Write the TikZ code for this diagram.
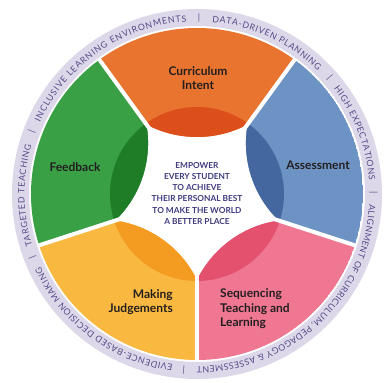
\documentclass[tikz,border=0pt]{standalone}
\usepackage{fontspec}
\setmainfont{Lato}
\usetikzlibrary{decorations.text}
\definecolor{ringbg}{HTML}{DDD8E9}
\definecolor{ringtxt}{HTML}{564B88}
\definecolor{corange}{HTML}{E8742F}
\definecolor{dorange}{HTML}{DC4F1B}
\definecolor{cgreen}{HTML}{3AA046}
\definecolor{dgreen}{HTML}{1F7D28}
\definecolor{cyellow}{HTML}{F9B840}
\definecolor{dyellow}{HTML}{F49B22}
\definecolor{cpink}{HTML}{EF7792}
\definecolor{dpink}{HTML}{E4516E}
\definecolor{cblue}{HTML}{6D93C4}
\definecolor{dblue}{HTML}{44679F}
\definecolor{midtxt}{HTML}{3F3B80}
\definecolor{lbltxt}{HTML}{231F20}
\newcommand{\ringfmt}{\fontsize{8.8}{8.8}\selectfont\color{ringtxt}}
\begin{document}
\begin{tikzpicture}[x=1pt,y=1pt,
  lbl/.style={text=lbltxt, font=\fontsize{12}{14.5}\selectfont\bfseries, inner sep=0pt},
  sepbar/.style={text=ringtxt, font=\fontsize{9}{9}\selectfont, inner sep=0pt},
  ringtext/.style={decorate, decoration={text along path, text align=fit to path, text={|\ringfmt|#1}}}]
\useasboundingbox (-197,-189) rectangle (187,194);
\fill[white] (-197,-189) rectangle (187,194);
% outer ring
\fill[ringbg, even odd rule] (0,0) circle (185) (0,0) circle (168);
% petals
\foreach \a/\c/\d in {90/corange/dorange, 162/cgreen/dgreen, 234/cyellow/dyellow, 306/cpink/dpink, 18/cblue/dblue} {
  \begin{scope}
    \clip (\a:165) circle (108);
    \clip (0,0) -- (\a-36:166) arc[start angle=\a-36, end angle=\a+36, radius=166] -- cycle;
    \fill[\c] (0,0) circle (166);
    \fill[\d] (0,0) circle (87);
  \end{scope}
}
% white gaps between petals
\foreach \g in {54,126,198,270,342} \draw[white, line width=4] (0,0) -- (\g:167);
% ring texts
\path[ringtext={INCLUSIVE LEARNING ENVIRONMENTS}] (155.5:172.5) arc[start angle=155.5, end angle=93.5, radius=172.5];
\path[ringtext={DATA-DRIVEN PLANNING}] (85:172.5) arc[start angle=85, end angle=45.5, radius=172.5];
\path[ringtext={HIGH EXPECTATIONS}] (37.5:172.5) arc[start angle=37.5, end angle=4.5, radius=172.5];
\path[ringtext={ALIGNMENT OF CURRICULUM, PEDAGOGY {\&} ASSESSMENT}] (-3.5:172.5) arc[start angle=-3.5, end angle=-90, radius=172.5];
\path[ringtext={EVIDENCE-BASED DECISION MAKING}] (-98:172.5) arc[start angle=-98, end angle=-155, radius=172.5];
\path[ringtext={TARGETED TEACHING}] (-162.5:172.5) arc[start angle=-162.5, end angle=-196.5, radius=172.5];
% separators
\foreach \s [count=\i] in {89.3, 41.3, 0.3, -94.3, -158.8, 159.3} \node[sepbar, rotate=\s-90] (sep\i) at (\s:176.5) {|};
% labels
\node[lbl, align=center] (curr) at (1,116) {Curriculum\\Intent};
\node[lbl] (feed) at (-122,27) {Feedback};
\node[lbl] (asse) at (121,29) {Assessment};
\node[lbl, align=right, anchor=east] (judg) at (-24,-108) {Making\\Judgements};
\node[lbl, align=left, anchor=west] (sequ) at (23,-115) {Sequencing\\Teaching and\\Learning};
\node[text=midtxt, font=\fontsize{8.3}{11.3}\selectfont\bfseries, align=center, inner sep=0pt] (mission) at (0,0.7) {EMPOWER\\EVERY STUDENT\\TO ACHIEVE\\THEIR PERSONAL BEST\\TO MAKE THE WORLD\\A BETTER PLACE};
\end{tikzpicture}
\end{document}
